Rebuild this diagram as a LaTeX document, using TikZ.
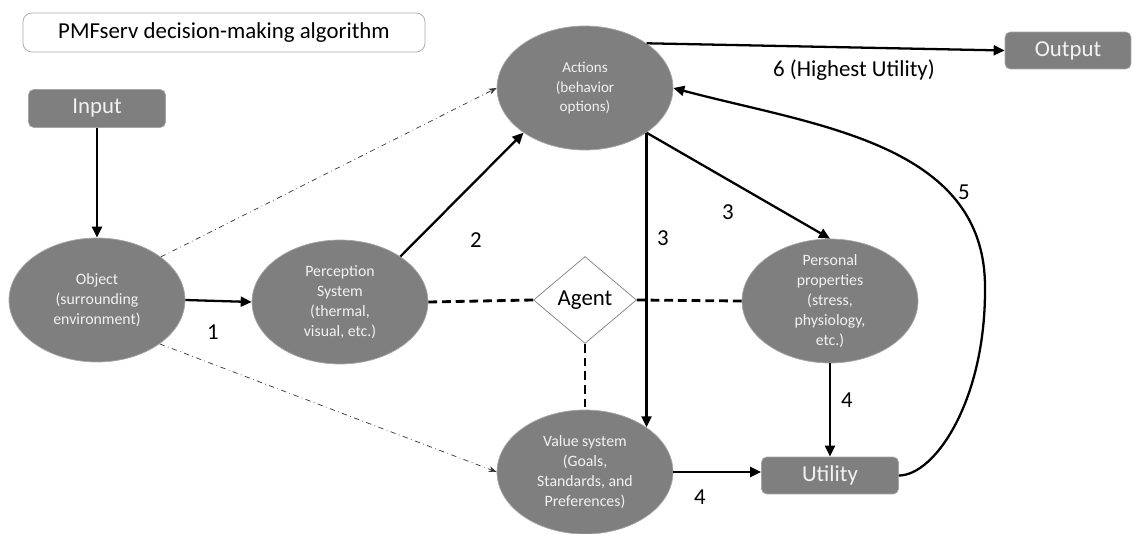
\documentclass[tikz,border=0pt]{standalone}
\usepackage{fontspec}
\setmainfont{Carlito}
\usetikzlibrary{arrows.meta,positioning,shapes.geometric}
\definecolor{boxgray}{HTML}{7F7F7F}
\definecolor{edgegray}{HTML}{A6A6A6}
\definecolor{txtwhite}{HTML}{F2F2F2}
\tikzset{
  ar/.style={-{Triangle[length=2.2mm,width=2mm]},line width=1.3pt,black},
  dd/.style={-{Stealth[length=1.6mm]},dash dot,thin,black!80},
  ds/.style={line width=1.6pt,dash pattern=on 5pt off 2.8pt},
  oval/.style={ellipse,fill=boxgray,draw=edgegray,thin,minimum width=3.52cm,minimum height=2.48cm,inner sep=-5pt,align=center,text=txtwhite,font=\fontsize{9}{11.4}\selectfont},
  gbox/.style={rectangle,rounded corners=3pt,fill=boxgray,draw=edgegray,minimum width=2.74cm,minimum height=0.76cm,text=txtwhite,font=\fontsize{13}{15}\selectfont},
  lbl/.style={font=\fontsize{13}{15}\selectfont}
}
\begin{document}
\begin{tikzpicture}[x=0.02cm,y=0.02cm]
\useasboundingbox (0,0) rectangle (1134,-534);
% title and boxes
\node[draw=edgegray,rounded corners=5pt,minimum width=8.04cm,minimum height=0.78cm,lbl] (title) at (224,-32.5) {PMFserv decision-making algorithm};
\node[gbox] (Input) at (97,-108.5) {Input};
\node[gbox,minimum width=2.52cm,minimum height=0.74cm] (Output) at (1068,-50.5) {Output};
\node[gbox,minimum height=0.74cm] (Utility) at (830,-475.5) {Utility};
% ellipses
\node[oval] (Object) at (97,-300) {Object\\(surrounding\\environment)};
\node[oval] (Perception) at (340,-302) {Perception\\System\\(thermal,\\visual, etc.)};
\node[oval,font=\fontsize{8.6}{11}\selectfont] (Actions) at (585,-88) {Actions\\(behavior\\options)};
\node[oval] (Personal) at (830,-301) {Personal\\properties\\(stress,\\physiology,\\etc.)};
\node[oval] (Value) at (585,-472) {Value system\\(Goals,\\Standards, and\\Preferences)};
\node[diamond,draw=gray,fill=white,minimum width=2.06cm,minimum height=1.74cm,inner sep=0pt,lbl] (Agent) at (585,-300) {Agent};
% connectors
\draw[ar] (Input.south) -- (Object.north);
\draw[ar] (Object.east) -- (Perception.west);
\draw[ar] (Perception.37) -- (Actions.216);
\draw[ar] (Actions.-36) -- (Value.36);
\draw[ar] (Actions.-36) -- (Personal.north);
\draw[ar] (Personal.south) -- (Utility.north);
\draw[ar] (Value.east) -- (Value.east -| Utility.west);
\draw[ar] (Actions.36) -- (Output.west);
\draw[ar] (Utility.east) .. controls (935,-475.5) and (986,-400) .. (985,-287) to[out=90,in=-15] (Actions.east);
\draw[dd] (Object.34) -- (Actions.west);
\draw[dd] (Object.-35) -- (Value.west);
\draw[ds] (Perception.east) -- (Agent.west);
\draw[ds] (Agent.east) -- (Personal.west);
\draw[ds] (Agent.south) -- (Value.north);
% labels
\node[lbl] (n1) at (213,-332) {1};
\node[lbl] (n2) at (476,-240) {2};
\node[lbl] (n3a) at (663,-238) {3};
\node[lbl] (n3b) at (728,-212) {3};
\node[lbl] (n4a) at (847,-400) {4};
\node[lbl] (n4b) at (700,-497) {4};
\node[lbl] (n5) at (964,-192) {5};
\node[lbl] (n6) at (854,-70) {6 (Highest Utility)};
\end{tikzpicture}
\end{document}
